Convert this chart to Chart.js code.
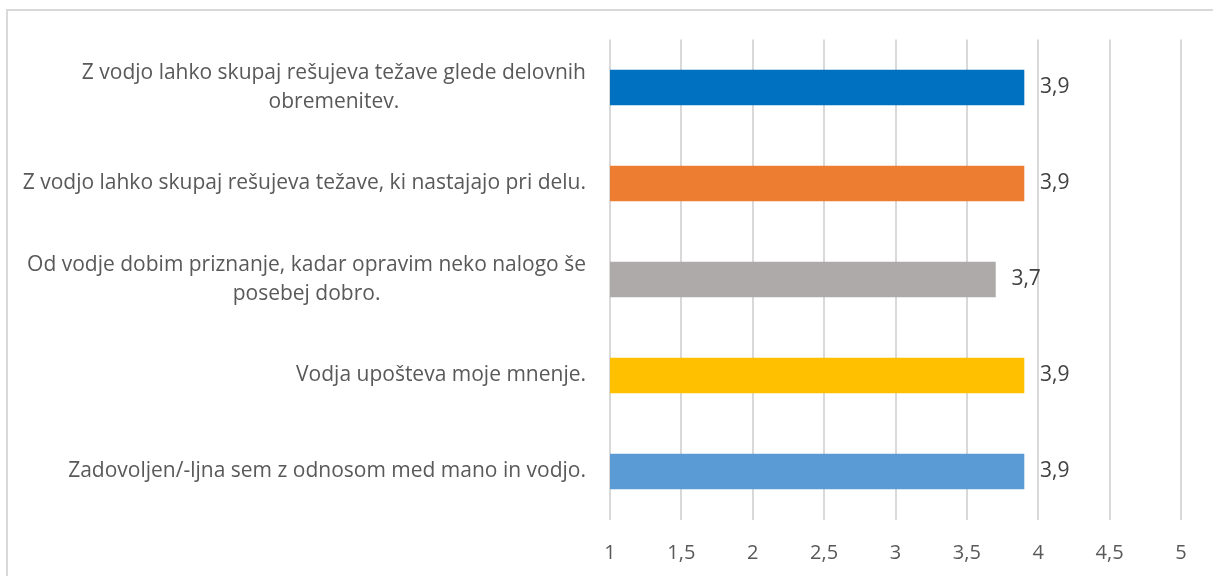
<!DOCTYPE html>
<html><head><meta charset="utf-8">
<script src="https://cdn.jsdelivr.net/npm/chart.js@4/dist/chart.umd.min.js"></script>
<style>html,body{margin:0;padding:0;background:#fff}#wrap{width:1213px;height:576px;position:relative}</style>
</head><body><div id="wrap"><canvas id="c" width="1213" height="576"></canvas></div>
<script>
const categories = [
  ["Z vodjo lahko skupaj rešujeva težave glede delovnih", "obremenitev."],
  ["Z vodjo lahko skupaj rešujeva težave, ki nastajajo pri delu."],
  ["Od vodje dobim priznanje, kadar opravim neko nalogo še", "posebej dobro."],
  ["Vodja upošteva moje mnenje."],
  ["Zadovoljen/-ljna sem z odnosom med mano in vodjo."]
];
const values = [3.9, 3.9, 3.7, 3.9, 3.9];
const valueLabels = ["3,9", "3,9", "3,7", "3,9", "3,9"];
const barColors = ["#0070C0", "#ED7D31", "#AEAAAA", "#FFC000", "#5B9BD5"];
const xTicks = { min: 1, max: 5, step: 0.5 };

const FONT = "'Open Sans', sans-serif";
const TEXT = "#595959";

const framePlugin = {
  id: 'frame',
  beforeDraw(chart) {
    const ctx = chart.ctx;
    ctx.save();
    ctx.strokeStyle = '#d9d9d9';
    ctx.lineWidth = 2;
    ctx.beginPath();
    ctx.moveTo(7, 576); ctx.lineTo(7, 10); ctx.lineTo(1213, 10);
    ctx.stroke();
    ctx.restore();
  }
};

const catLabelPlugin = {
  id: 'catLabels',
  afterDraw(chart) {
    const ctx = chart.ctx;
    const y = chart.scales.y;
    ctx.save();
    ctx.font = "21px " + FONT;
    ctx.fillStyle = TEXT;
    ctx.textBaseline = 'middle';
    ctx.textAlign = 'center';
    const right = y.right - 24;
    const lh = 29;
    categories.forEach((lines, i) => {
      const py = y.getPixelForTick(i);
      const w = Math.max(...lines.map(l => ctx.measureText(l).width));
      const cx = right - w / 2;
      const start = py - (lines.length - 1) * lh / 2;
      lines.forEach((l, j) => ctx.fillText(l, cx, start + j * lh));
    });
    ctx.restore();
  }
};

const valueLabelPlugin = {
  id: 'valueLabels',
  afterDatasetsDraw(chart) {
    const ctx = chart.ctx;
    const meta = chart.getDatasetMeta(0);
    ctx.save();
    ctx.font = "21px " + FONT;
    ctx.fillStyle = "#404040";
    ctx.textBaseline = 'middle';
    ctx.textAlign = 'left';
    meta.data.forEach((bar, i) => {
      ctx.fillText(valueLabels[i], bar.x + 16, bar.y);
    });
    ctx.restore();
  }
};

new Chart(document.getElementById('c'), {
  type: 'bar',
  data: {
    labels: categories.map(l => l.join(' ')),
    datasets: [{
      data: values,
      backgroundColor: barColors,
      barThickness: 35,
      borderWidth: 0
    }]
  },
  options: {
    indexAxis: 'y',
    responsive: false,
    animation: false,
    layout: { padding: { left: 0, right: 32, top: 39.5, bottom: 0 } },
    plugins: { legend: { display: false }, tooltip: { enabled: false } },
    scales: {
      x: {
        min: xTicks.min, max: xTicks.max,
        ticks: {
          stepSize: xTicks.step,
          color: TEXT,
          font: { family: FONT, size: 20 },
          padding: 22,
          callback: v => String(v).replace('.', ',')
        },
        grid: { color: '#d9d9d9', lineWidth: 2, drawTicks: false },
        border: { display: false },
        afterFit(scale) { scale.height = 56.5; }
      },
      y: {
        ticks: { display: false },
        grid: { display: false },
        border: { display: false },
        afterFit(scale) { scale.width = 610; }
      }
    }
  },
  plugins: [framePlugin, catLabelPlugin, valueLabelPlugin]
});
</script>
</body></html>
